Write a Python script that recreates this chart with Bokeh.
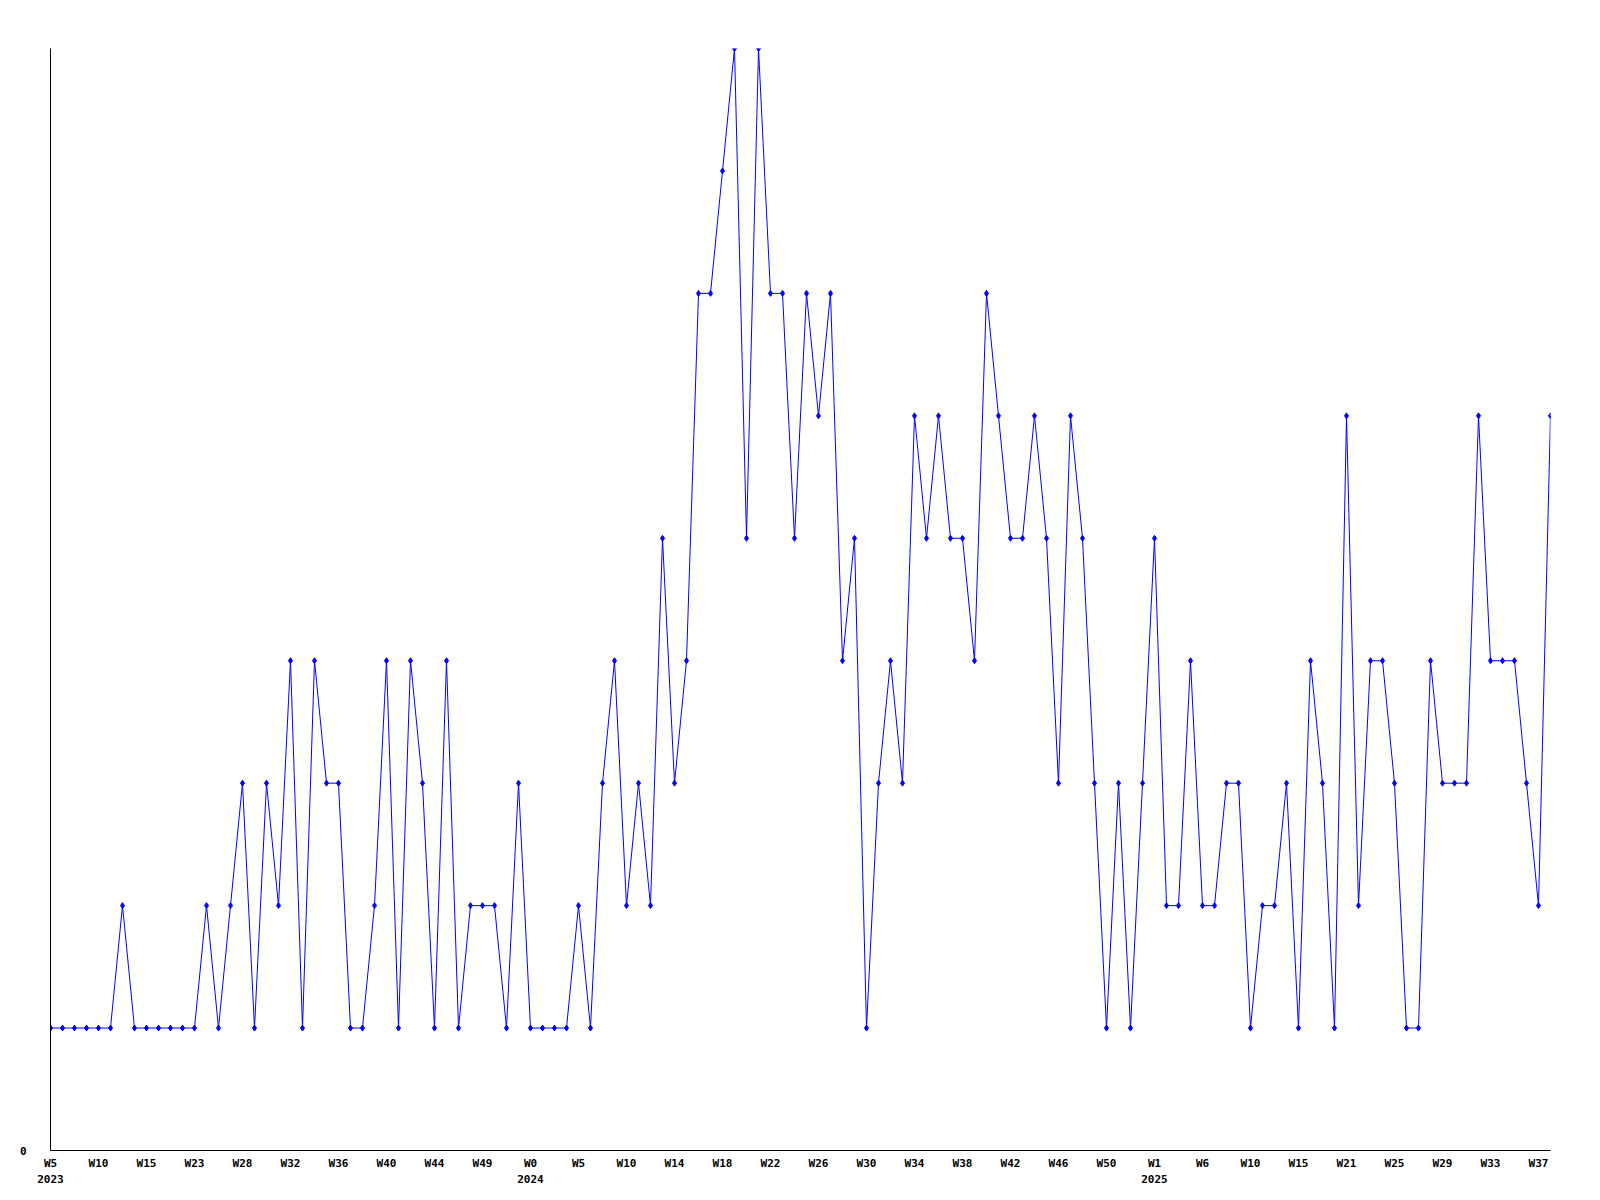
from bokeh.plotting import figure
from bokeh.models import Range1d, FixedTicker, ColumnDataSource
from bokeh.embed import file_html
from bokeh.resources import INLINE

values = [1, 1, 1, 1, 1, 1, 2, 1, 1, 1, 1, 1, 1, 2, 1, 2, 3, 1, 3, 2,
          4, 1, 4, 3, 3, 1, 1, 2, 4, 1, 4, 3, 1, 4, 1, 2, 2, 2, 1, 3,
          1, 1, 1, 1, 2, 1, 3, 4, 2, 3, 2, 5, 3, 4, 7, 7, 8, 9, 5, 9,
          7, 7, 5, 7, 6, 7, 4, 5, 1, 3, 4, 3, 6, 5, 6, 5, 5, 4, 7, 6,
          5, 5, 6, 5, 3, 6, 5, 3, 1, 3, 1, 3, 5, 2, 2, 4, 2, 2, 3, 3,
          1, 2, 2, 3, 1, 4, 3, 1, 6, 2, 4, 4, 3, 1, 1, 4, 3, 3, 3, 6,
          4, 4, 4, 3, 2, 6]

tick_labels = ["W5", "W10", "W15", "W23", "W28", "W32", "W36", "W40", "W44", "W49",
               "W0", "W5", "W10", "W14", "W18", "W22", "W26", "W30", "W34", "W38",
               "W42", "W46", "W50", "W1", "W6", "W10", "W15", "W21", "W25", "W29",
               "W33", "W37"]
year_labels = {0: "2023", 10: "2024", 23: "2025"}
label_every = 4

x = list(range(len(values)))
src = ColumnDataSource(dict(x=x, y=values))

p = figure(frame_width=1500, frame_height=1102, output_backend="svg",
           toolbar_location=None,
           x_range=Range1d(0, len(values) - 1), y_range=Range1d(0, 9),
           min_border_left=50, min_border_top=48, min_border_right=34,
           min_border_bottom=36)
p.background_fill_color = "white"
p.border_fill_color = "white"
p.outline_line_color = None
p.grid.visible = False

p.line("x", "y", source=src, line_color="#0000ff", line_width=1)
p.scatter("x", "y", source=src, marker="diamond", size=6,
          fill_color="#0000ff", line_color="#0000ff")

ticks = [i * label_every for i in range(len(tick_labels))]
overrides = {}
for k, lab in enumerate(tick_labels):
    t = ticks[k]
    overrides[t] = lab + ("\n" + year_labels[k] if k in year_labels else "")

xa = p.xaxis[0]
xa.ticker = FixedTicker(ticks=ticks)
xa.major_label_overrides = overrides
xa.major_tick_line_color = None
xa.minor_tick_line_color = None
xa.axis_line_color = "black"
xa.major_label_standoff = 0
xa.major_label_text_font = "DejaVu Sans Mono"
xa.major_label_text_font_style = "bold"
xa.major_label_text_font_size = "11px"
xa.major_label_text_color = "black"
xa.major_label_text_line_height = 1.25

ya = p.yaxis[0]
ya.ticker = FixedTicker(ticks=[0])
ya.major_tick_line_color = None
ya.minor_tick_line_color = None
ya.axis_line_color = "black"
ya.major_label_standoff = 18
ya.major_label_text_font = "DejaVu Sans Mono"
ya.major_label_text_font_style = "bold"
ya.major_label_text_font_size = "11px"
ya.major_label_text_color = "black"

open("out.html", "w").write(file_html(p, INLINE))
